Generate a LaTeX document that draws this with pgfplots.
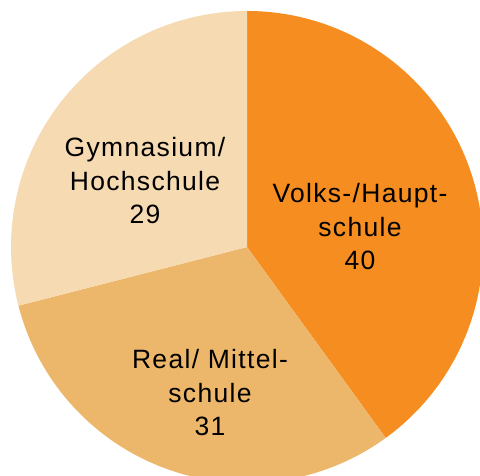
\documentclass[border=0pt]{standalone}
\usepackage{pgfplots}
\usepackage{pgfplotstable}
\pgfplotsset{compat=1.18}
\usepackage{fontspec}
\setmainfont{Liberation Sans}[LetterSpace=5]
\definecolor{cA}{HTML}{F58D21}
\definecolor{cB}{HTML}{EDB76B}
\definecolor{cC}{HTML}{F6DAB2}
\pgfplotstableread{
label value
Volks 40
Real 31
Gym 29
}\piedata
\pgfplotstablegetelem{0}{value}\of\piedata \let\vA\pgfplotsretval
\pgfplotstablegetelem{1}{value}\of\piedata \let\vB\pgfplotsretval
\pgfplotstablegetelem{2}{value}\of\piedata \let\vC\pgfplotsretval
\def\R{236}
\pgfmathsetmacro\aA{90-3.6*\vA}
\pgfmathsetmacro\aB{\aA-3.6*\vB}
\pgfmathsetmacro\aC{\aB-3.6*\vC}
\pgfmathsetmacro\xA{\R*cos(\aA)}
\pgfmathsetmacro\yA{\R*sin(\aA)}
\pgfmathsetmacro\xB{\R*cos(\aB)}
\pgfmathsetmacro\yB{\R*sin(\aB)}
\begin{document}
\begin{tikzpicture}
\path[use as bounding box] (0,0) rectangle (480pt,476pt);
\begin{axis}[
  at={(0,0)}, anchor=south west,
  scale only axis, width=480pt, height=476pt,
  xmin=-247, xmax=233, ymin=-229, ymax=247,
  hide axis, clip=true,
]
\fill[cA] (axis cs:0,0) -- (axis cs:0,\R) arc[start angle=90, end angle=\aA, radius=\R pt] -- cycle;
\fill[cB] (axis cs:0,0) -- (axis cs:\xA,\yA) arc[start angle=\aA, end angle=\aB, radius=\R pt] -- cycle;
\fill[cC] (axis cs:0,0) -- (axis cs:\xB,\yB) arc[start angle=\aB, end angle=\aC, radius=\R pt] -- cycle;
\node[align=center, font=\fontsize{26.5}{33.5}\selectfont] at (axis cs:113,20) {Volks-/Haupt-\\schule\\\vA};
\node[align=center, font=\fontsize{26.5}{33.5}\selectfont] at (axis cs:-37,-146) {Real/ Mittel-\\schule\\\vB};
\node[align=center, font=\fontsize{26.5}{33.5}\selectfont] at (axis cs:-102,66) {Gymnasium/\\Hochschule\\\vC};
\end{axis}
\end{tikzpicture}
\end{document}
